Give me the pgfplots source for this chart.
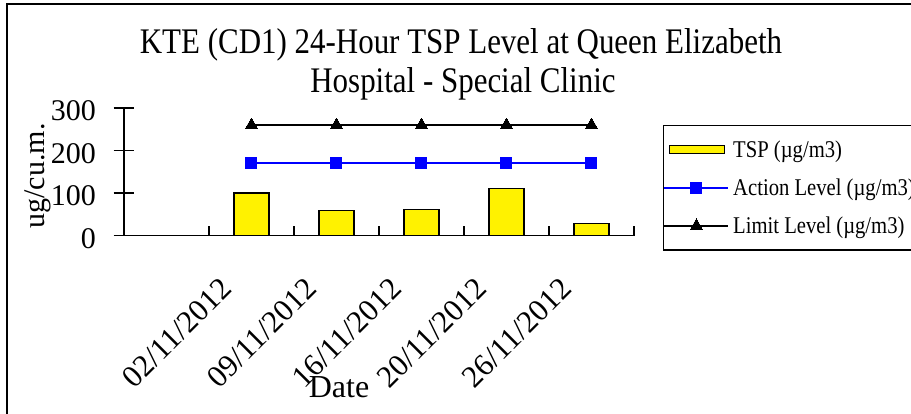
\documentclass[border=0pt]{standalone}
\usepackage{fontspec}
\setmainfont{Liberation Serif}
\newfontfamily\condfont{Liberation Serif}[FakeStretch=0.86]
\usepackage{pgfplots}
\pgfplotsset{compat=1.18}
\pgfplotsset{
  mylineleg/.style={legend image code/.code={\draw[##1, mark repeat=2, mark phase=2] plot coordinates {(0pt,0pt) (32pt,0pt) (64pt,0pt)};}},
  mybarleg/.style={legend image code/.code={\draw[fill=yellow, draw=black, line width=1.2pt] (5pt,-4pt) rectangle (60pt,4pt);}},
}
\begin{document}
\begin{tikzpicture}
\useasboundingbox (0,0) rectangle (911pt,-414pt);
\draw[line width=2pt] (7pt,-414pt) -- (7pt,-4pt) -- (912pt,-4pt);
\node[anchor=base, font=\condfont\fontsize{36}{40}\selectfont] at (461pt,-54pt) {KTE (CD1) 24-Hour TSP Level at Queen Elizabeth};
\node[anchor=base, font=\condfont\fontsize{36}{40}\selectfont] at (463pt,-93pt) {Hospital - Special Clinic};
\begin{axis}[
  at={(124pt,-235.5pt)}, anchor=south west,
  scale only axis, width=510pt, height=127.5pt,
  xmin=-0.5, xmax=5.5, ymin=0, ymax=300,
  axis x line=bottom, axis y line=left,
  axis line style={-, line width=1.6pt},
  every tick/.style={line width=1.6pt, black},
  tick align=center,
  major tick length=21pt,
  minor tick length=10pt,
  ytick={0,100,200,300},
  /pgf/number format/assume math mode=true,
  xtick={1,2,3,4,5},
  xticklabels={02/11/2012,09/11/2012,16/11/2012,20/11/2012,26/11/2012},
  major x tick style={draw=none},
  minor xtick={-0.5,0.5,1.5,2.5,3.5,4.5,5.5},
  minor x tick style={yshift=5pt},
  yticklabel style={font=\fontsize{30}{32}\selectfont, anchor=east, xshift=-14pt, yshift=-3pt},
  xticklabel style={font=\fontsize{31}{33}\selectfont, xshift=-23pt, yshift=-35pt, rotate=45, anchor=east},
  xlabel={Date},
  xlabel style={font=\fontsize{32}{34}\selectfont, at={(axis description cs:0.4216,-1.2745)}, anchor=base},
  ylabel={ug/cu.m.},
  ylabel style={font=\fontsize{30}{32}\selectfont, at={(axis description cs:-0.1549,0.4667)}, anchor=base},
  legend style={at={(axis description cs:1.0569,0.8667)}, anchor=north west,
    draw=black, line width=1.2pt, font=\condfont\fontsize{24}{26}\selectfont,
    inner xsep=0pt, inner ysep=13pt, row sep=16pt,
    nodes={inner xsep=4pt, inner ysep=2pt}},
  legend cell align=left,
  clip=false,
]
\addplot[ybar, bar width=35pt, fill=yellow, draw=black, line width=1.2pt, mybarleg]
  coordinates {(1,100) (2,58) (3,62) (4,110) (5,29)};
\addlegendentry{TSP (µg/m3)}
\addplot[blue, line width=1.6pt, mark=square*, mark size=5.5pt, mark options={solid, line width=0pt}, mylineleg]
  coordinates {(1,171) (2,171) (3,171) (4,171) (5,171)};
\addlegendentry{Action Level (µg/m3)}
\addplot[black, line width=1.6pt, mark=triangle*, mark size=7pt, mark options={solid, line width=0pt}, mylineleg]
  coordinates {(1,260) (2,260) (3,260) (4,260) (5,260)};
\addlegendentry{Limit Level (µg/m3)}
\end{axis}
\end{tikzpicture}
\end{document}
